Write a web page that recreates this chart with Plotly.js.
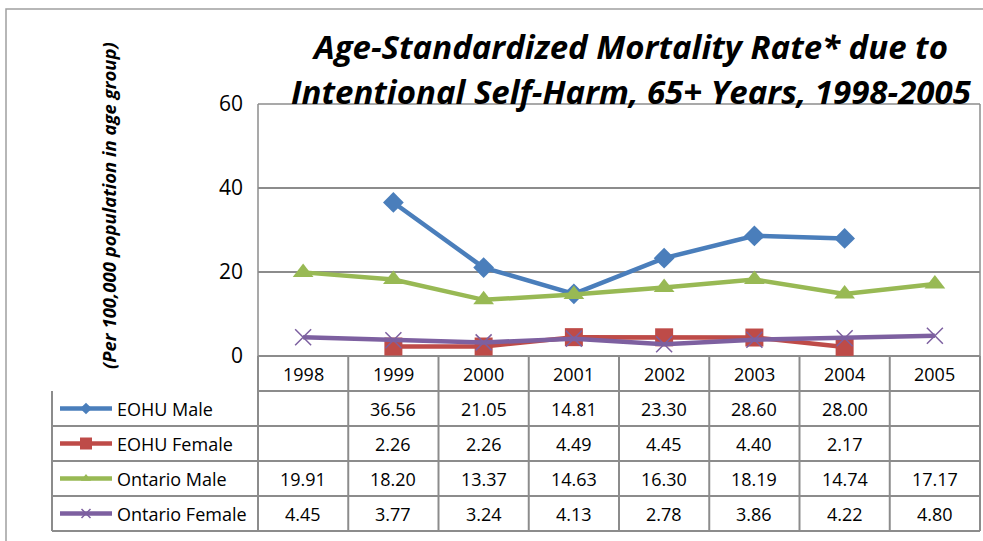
<!DOCTYPE html>
<html><head><meta charset="utf-8">
<script src="https://cdn.plot.ly/plotly-3.0.1.min.js"></script>
<style>html,body{margin:0;padding:0;background:#fff;}#chart{width:983px;height:541px;}</style>
</head><body><div id="chart"></div>
<script>
const years = ['1998','1999','2000','2001','2002','2003','2004','2005'];
const seriesNames = ['EOHU Male','EOHU Female','Ontario Male','Ontario Female'];
const eohuMale = [null, 36.56, 21.05, 14.81, 23.30, 28.60, 28.00, null];
const eohuFemale = [null, 2.26, 2.26, 4.49, 4.45, 4.40, 2.17, null];
const ontarioMale = [19.91, 18.20, 13.37, 14.63, 16.30, 18.19, 14.74, 17.17];
const ontarioFemale = [4.45, 3.77, 3.24, 4.13, 2.78, 3.86, 4.22, 4.80];
const yTicks = [0, 20, 40, 60];

const allSeries = [eohuMale, eohuFemale, ontarioMale, ontarioFemale];
const colors = ['#4A7EBB', '#BE4B48', '#98B954', '#7D60A0'];
const markers = [
  {symbol:'diamond', size:16},
  {symbol:'square', size:18},
  {symbol:'triangle-up', size:18},
  {symbol:'x-thin-open', size:16}
];

const W = 983, H = 541;
const plotL = 258, plotR = 980, plotT = 104, plotB = 356;
const tblL = 52;
const rowEdges = [356, 391, 426, 461, 496, 531];
const gridCol = '#8C8C8C';
const PX = x => x / W, PY = y => 1 - y / H;
const colW = (plotR - plotL) / years.length;

const traces = [];
allSeries.forEach((s, i) => {
  const m = markers[i];
  traces.push({
    type:'scatter', mode:'lines+markers', x: years, y: s, name: seriesNames[i],
    xaxis:'x', yaxis:'y', showlegend:false, hoverinfo:'skip',
    line:{color:colors[i], width:4.5},
    marker: m.symbol === 'x-thin-open'
      ? {symbol:m.symbol, size:m.size, color:colors[i], line:{color:colors[i], width:1.5}}
      : {symbol:m.symbol, size:m.size, color:colors[i]},
    cliponaxis:false
  });
});

// legend keys in table (pixel axis covering the whole page)
seriesNames.forEach((n, i) => {
  const yc = (rowEdges[i+1] + rowEdges[i+2]) / 2;
  const m = markers[i];
  traces.push({
    type:'scatter', mode:'lines', x:[60, 112], y:[yc, yc], xaxis:'x2', yaxis:'y2',
    showlegend:false, hoverinfo:'skip', line:{color:colors[i], width:4.5}
  });
  traces.push({
    type:'scatter', mode:'markers', x:[86], y:[yc], xaxis:'x2', yaxis:'y2',
    showlegend:false, hoverinfo:'skip',
    marker: m.symbol === 'x-thin-open'
      ? {symbol:m.symbol, size:9, color:colors[i], line:{color:colors[i], width:1.5}}
      : {symbol:m.symbol, size: i===1 ? 12 : 9, color:colors[i]}
  });
});

const shapes = [];
const px = (x0,y0,x1,y1,color,width) => shapes.push({type:'line', xref:'paper', yref:'paper', x0:PX(x0), y0:PY(y0), x1:PX(x1), y1:PY(y1), line:{color, width}, layer:'below'});
// outer chart border
shapes.push({type:'rect', xref:'paper', yref:'paper', x0:PX(6), y0:PY(9), x1:PX(1000), y1:PY(570), line:{color:'#A0A0A0', width:1.5}, layer:'below'});
// plot area border
px(plotL, plotT, plotR, plotT, gridCol, 1.5);
px(plotL, plotT, plotL, plotB, gridCol, 1.5);
px(plotR, plotT, plotR, plotB, gridCol, 1.5);
// table horizontal lines
rowEdges.forEach((y, k) => px(k < 2 ? plotL : tblL, y, plotR, y, gridCol, 2));
px(tblL, rowEdges[1], tblL, rowEdges[5], gridCol, 2);
// column separators
for (let k = 0; k <= years.length; k++) {
  px(plotL + k*colW, rowEdges[0], plotL + k*colW, rowEdges[5], gridCol, 2);
}

const annotations = [];
const tf = {family:'Open Sans, Noto Sans, sans-serif', size:18, color:'#000'};
years.forEach((yr, j) => {
  const xc = PX(plotL + colW*(j + 0.5));
  annotations.push({xref:'paper', yref:'paper', x:xc, y:PY((rowEdges[0]+rowEdges[1])/2), text:yr, showarrow:false, font:tf, xanchor:'center', yanchor:'middle'});
  allSeries.forEach((s, i) => {
    if (s[j] === null) return;
    annotations.push({xref:'paper', yref:'paper', x:xc, y:PY((rowEdges[i+1]+rowEdges[i+2])/2), text:s[j].toFixed(2), showarrow:false, font:tf, xanchor:'center', yanchor:'middle'});
  });
});
seriesNames.forEach((n, i) => {
  annotations.push({xref:'paper', yref:'paper', x:PX(115), y:PY((rowEdges[i+1]+rowEdges[i+2])/2), text:n, showarrow:false, font:tf, xanchor:'left', yanchor:'middle'});
});
// title
const titleFont = {family:'Open Sans, Noto Sans, sans-serif', size:33, color:'#000'};
annotations.push({xref:'paper', yref:'paper', x:PX(630), y:PY(47), text:'<b><i>Age-Standardized Mortality Rate* due to</i></b>', showarrow:false, font:titleFont, xanchor:'center', yanchor:'middle'});
annotations.push({xref:'paper', yref:'paper', x:PX(631), y:PY(92), text:'<b><i>Intentional Self-Harm, 65+ Years, 1998-2005</i></b>', showarrow:false, font:titleFont, xanchor:'center', yanchor:'middle'});
// y axis title
annotations.push({xref:'paper', yref:'paper', x:PX(109), y:PY(206), text:'<b><i>(Per 100,000 population in age group)</i></b>', textangle:-90, showarrow:false, font:{family:'Open Sans, Noto Sans, sans-serif', size:18.5, color:'#000'}, xanchor:'center', yanchor:'middle'});

const layout = {
  width:W, height:H, margin:{l:0, r:0, t:0, b:0},
  paper_bgcolor:'#fff', plot_bgcolor:'rgba(0,0,0,0)',
  showlegend:false,
  xaxis:{domain:[plotL/W, plotR/W], type:'category', categoryorder:'array', categoryarray:years,
    range:[-0.5, years.length-0.5], showticklabels:false, showgrid:false, zeroline:false,
    showline:false, ticks:'', anchor:'y', fixedrange:true},
  yaxis:{domain:[1-plotB/H, 1-plotT/H], range:[0, 60], tickvals:yTicks, ticktext:yTicks.map(String),
    showgrid:true, gridcolor:gridCol, gridwidth:1.5, zeroline:false, showline:false, ticks:'',
    tickfont:{family:'Open Sans, Noto Sans, sans-serif', size:21, color:'#000'}, ticklabelstandoff:14,
    anchor:'x', fixedrange:true},
  xaxis2:{domain:[0,1], range:[0, W], visible:false, anchor:'y2', fixedrange:true},
  yaxis2:{domain:[0,1], range:[H, 0], visible:false, anchor:'x2', fixedrange:true},
  shapes, annotations
};
Plotly.newPlot('chart', traces, layout, {staticPlot:true, displayModeBar:false});
</script></body></html>
